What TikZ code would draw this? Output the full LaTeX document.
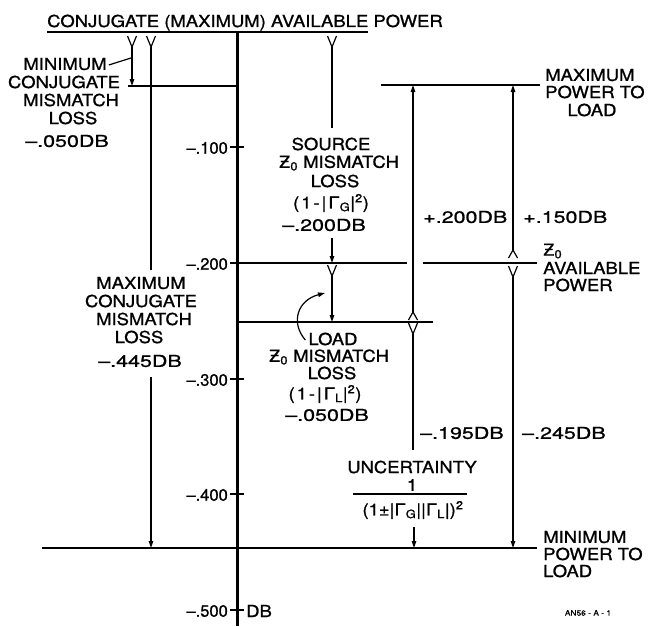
\documentclass[tikz,border=0pt]{standalone}
\usepackage{fontspec}
\setmainfont{TeX Gyre Heros}[FakeStretch=1.12, FakeBold=1]
\newfontfamily\valfont{TeX Gyre Heros}[FakeStretch=1.3, FakeBold=1]
\newfontfamily\tickfont{TeX Gyre Heros}[FakeBold=1]
\newfontfamily\frmfont{TeX Gyre Heros}[FakeStretch=1.12, FakeBold=1, LetterSpace=12]
\newfontfamily\zfont{DejaVu Sans}[FakeBold=1]
\usetikzlibrary{arrows.meta}
\newcommand{\Zo}{{\zfont Ƶ}\textsubscript{0}}
\tikzset{
  txt/.style={font=\fontsize{16.5}{18}\selectfont, inner sep=0pt},
  val/.style={font=\fontsize{16.5}{18}\selectfont\valfont, inner sep=0pt},
  tck/.style={font=\fontsize{16.5}{18}\selectfont\tickfont, inner sep=0pt},
  frm/.style={font=\fontsize{16.5}{18}\selectfont\frmfont, inner sep=0pt},
  small/.style={font=\fontsize{7.5}{8}\selectfont, inner sep=0pt},
  axisline/.style={line width=3pt},
  heavyline/.style={line width=2.4pt},
  levelline/.style={line width=1.5pt},
  thinline/.style={line width=1.2pt},
  arr/.style={thinline, -{Triangle[length=7pt,width=4.5pt]}},
  yfork/.pic={\draw[thinline] (-4.5,-11) -- (0,0) -- (4.5,-11);},
  vfork/.pic={\draw[thinline] (-4.5,8) -- (0,0) -- (4.5,8);}
}
\begin{document}
\begin{tikzpicture}[x=1pt,y=-1pt]
\useasboundingbox (0,0) rectangle (655,626);

% ---- title and top line
\node[txt, anchor=base west] (title) at (47,27) {CONJUGATE (MAXIMUM) AVAILABLE POWER};
\coordinate (topL) at (47,32);
\coordinate (topR) at (368,32);
\draw[heavyline] (topL) -- (topR);

% ---- axis
\coordinate (axT) at (237,32);
\coordinate (axB) at (237,626);
\draw[axisline] (axT) -- (axB);
\foreach \y/\l/\n in {147/.100/a,263/.200/b,379/.300/c,494/.400/d,610/.500/e}{
  \coordinate (tl\n) at (230,\y);
  \coordinate (tr\n) at (244,\y);
  \draw[levelline] (tl\n) -- (tr\n);
  \node[tck, anchor=east] (tick\n) at (228,\y+1) {–\l};
}
\node[txt, anchor=west] (db) at (246,611) {DB};

% ---- level lines
\coordinate (mcL) at (128,86);   \coordinate (mcR) at (237,86);
\draw[levelline] (mcL) -- (mcR);
\coordinate (mpL) at (381,85);   \coordinate (mpR) at (540,85);
\draw[levelline] (mpL) -- (mpR);
\coordinate (zaL) at (237,263);  \coordinate (zaM) at (407,263);
\coordinate (zaN) at (423,263);  \coordinate (zaR) at (537,263);
\draw[heavyline] (zaL) -- (zaM);
\draw[heavyline] (zaN) -- (zaR);
\coordinate (ldL) at (237,322);  \coordinate (ldR) at (433,322);
\draw[levelline] (ldL) -- (ldR);
\coordinate (btL) at (42,548);   \coordinate (btR) at (537,548);
\draw[levelline] (btL) -- (btR);

% ---- arrows
\coordinate (a1s) at (132,47); \coordinate (a1e) at (132,86);
\pic at (a1s) {yfork};
\draw[arr] (a1s) -- (a1e);
\coordinate (a2s) at (151,47); \coordinate (a2m) at (151,270);
\coordinate (a2n) at (151,377); \coordinate (a2e) at (151,548);
\pic at (a2s) {yfork};
\draw[thinline] (a2s) -- (a2m);
\draw[arr] (a2n) -- (a2e);
\coordinate (a3s) at (332,47); \coordinate (a3m) at (332,128);
\coordinate (a3n) at (332,238); \coordinate (a3e) at (332,263);
\pic at (a3s) {yfork};
\draw[thinline] (a3s) -- (a3m);
\draw[arr] (a3n) -- (a3e);
\coordinate (a4s) at (332,276); \coordinate (a4e) at (332,322);
\pic at (a4s) {yfork};
\draw[arr] (a4s) -- (a4e);
\coordinate (a5s) at (413,312); \coordinate (a5e) at (413,85);
\pic at (a5s) {vfork};
\draw[arr] (a5s) -- (a5e);
\coordinate (a6s) at (413,334); \coordinate (a6m) at (413,450);
\coordinate (a6n) at (414,527); \coordinate (a6e) at (414,548);
\pic at (a6s) {yfork};
\draw[thinline] (a6s) -- (a6m);
\draw[arr] (a6n) -- (a6e);
\coordinate (a7s) at (513,250); \coordinate (a7e) at (513,85);
\pic at (a7s) {vfork};
\draw[arr] (a7s) -- (a7e);
\coordinate (a8s) at (513,277); \coordinate (a8e) at (513,548);
\pic at (a8s) {yfork};
\draw[arr] (a8s) -- (a8e);

% ---- left group: minimum conjugate mismatch loss
\node[txt] (mn1) at (65,64) {MINIMUM};
\node[txt] (mn2) at (64,82) {CONJUGATE};
\node[txt] (mn3) at (71,100) {MISMATCH};
\node[txt] (mn4) at (73,118) {LOSS};
\node[val] (mn5) at (67,141) {–.050DB};
\coordinate (mnlead) at (131,58);
\draw[thinline] (mn1.east) ++(2,1) .. controls (120,61) .. (mnlead);

% ---- maximum conjugate mismatch loss
\node[txt] (mx1) at (141,283) {MAXIMUM};
\node[txt] (mx2) at (141,301) {CONJUGATE};
\node[txt] (mx3) at (144,319) {MISMATCH};
\node[txt] (mx4) at (139,337) {LOSS};
\node[val] (mx5) at (140,361) {–.445DB};

% ---- source Z0 mismatch loss
\node[txt] (sr1) at (331,144) {SOURCE};
\node[txt] (sr2) at (339,163) {\Zo\ MISMATCH};
\node[txt] (sr3) at (335,181) {LOSS};
\node[frm] (sr4) at (331,203) {(1-|Γ\textsubscript{G}|\textsuperscript{2})};
\node[val] (sr5) at (324,225) {–.200DB};

% ---- load Z0 mismatch loss
\node[txt] (ld1) at (333,339) {LOAD};
\node[txt] (ld2) at (329,357) {\Zo\ MISMATCH};
\node[txt] (ld3) at (332,373) {LOSS};
\node[frm] (ld4) at (325,394) {(1-|Γ\textsubscript{L}|\textsuperscript{2})};
\node[val] (ld5) at (327,415) {–.050DB};
\coordinate (ldtip) at (325,293);
\draw[arr] (ld1.west) ++(-3,1) .. controls (290,322) and (298,300) .. (ldtip);

% ---- uncertainty
\node[txt] (un1) at (412,467) {UNCERTAINTY};
\node[txt] (un2) at (412,485) {1};
\node[txt] (un3) at (413,510) {(1±|Γ\textsubscript{G}||Γ\textsubscript{L}|)\textsuperscript{2}};
\coordinate (barL) at (353,494); \coordinate (barR) at (467,494);
\draw[levelline] (barL) -- (barR);

% ---- values
\node[val, anchor=west] (v200) at (423,217) {+.200DB};
\node[val, anchor=west] (v150) at (523,217) {+.150DB};
\node[val, anchor=west] (v195) at (420,433) {–.195DB};
\node[val, anchor=west] (v245) at (522,433) {–.245DB};

% ---- right labels
\node[txt, anchor=west] (mp1) at (545,75) {MAXIMUM};
\node[txt, anchor=west] (mp2) at (545,92) {POWER TO};
\node[txt] (mp3) at (592,110) {LOAD};
\node[txt, anchor=west] (za1) at (543,251) {\Zo};
\node[txt, anchor=west] (za2) at (543,268) {AVAILABLE};
\node[txt, anchor=west] (za3) at (543,285) {POWER};
\node[txt, anchor=west] (np1) at (543,537) {MINIMUM};
\node[txt, anchor=west] (np2) at (543,554) {POWER TO};
\node[txt, anchor=west] (np3) at (543,571) {LOAD};

\node[small] (tag) at (588,613) {AN56 - A - 1};
\end{tikzpicture}
\end{document}
